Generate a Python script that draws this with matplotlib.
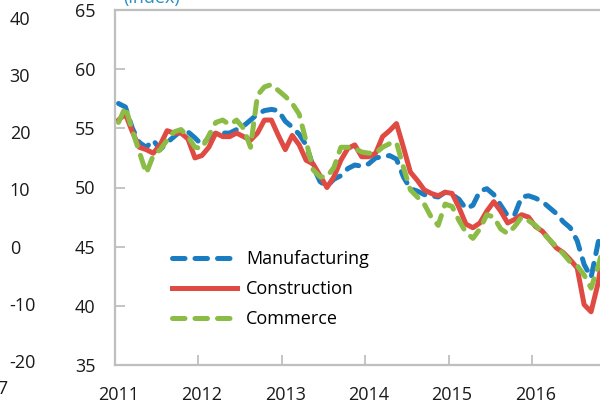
"""Business confidence indices by sector, 2011-2016 (monthly, index)
"""

import numpy as np
import pandas as pd
import matplotlib.pyplot as plt

plt.rcParams['font.family'] = ['Open Sans', 'DejaVu Sans']
plt.rcParams['font.size'] = 13
plt.rcParams['axes.unicode_minus'] = False

# monthly values, Jan 2011 onwards
manufacturing = [57.1, 56.8, 55.0, 53.8, 53.4, 54.0, 53.2, 53.8, 54.3, 54.8, 54.7, 54.2,
                 53.6, 54.2, 54.6, 54.6, 54.6, 54.9, 55.2, 55.7, 56.2, 56.5, 56.6, 56.5,
                 55.6, 55.1, 54.5, 53.6, 51.8, 50.5, 50.1, 50.7, 51.0, 51.6, 51.9, 51.8,
                 52.0, 52.5, 52.6, 52.7, 52.4, 50.9, 49.9, 49.7, 49.4, 49.3, 49.2, 49.6,
                 49.4, 49.0, 48.2, 48.5, 49.7, 49.9, 49.4, 48.5, 47.6, 47.7, 49.2, 49.3,
                 49.1, 48.8, 48.3, 47.8, 47.1, 46.6, 45.5, 43.5, 42.4, 45.3, 47.5, 48.5]
construction = [55.7, 56.2, 54.7, 53.4, 53.2, 52.9, 53.6, 54.8, 54.6, 54.6, 54.1, 52.5,
                52.7, 53.4, 54.6, 54.3, 54.3, 54.6, 54.3, 54.0, 54.6, 55.7, 55.7, 54.4,
                53.2, 54.4, 53.6, 52.3, 52.0, 51.0, 50.0, 50.9, 52.3, 53.3, 53.6, 52.6,
                52.6, 52.9, 54.3, 54.8, 55.4, 53.4, 51.3, 50.6, 49.8, 49.5, 49.3, 49.6,
                49.5, 48.3, 46.9, 46.6, 47.0, 48.0, 48.8, 48.0, 47.0, 47.3, 47.7, 47.5,
                46.7, 46.3, 45.6, 44.9, 44.5, 43.9, 43.2, 40.1, 39.5, 41.9, 45.5, 47.0]
commerce = [55.5, 56.8, 54.8, 53.0, 51.2, 52.7, 53.2, 54.0, 54.7, 54.9, 54.3, 53.4,
            53.3, 54.4, 55.5, 55.7, 55.3, 55.7, 55.0, 53.4, 57.8, 58.5, 58.7, 58.2,
            57.7, 57.1, 56.2, 53.9, 51.5, 50.9, 50.9, 51.7, 53.4, 53.4, 53.3, 53.0,
            52.9, 52.9, 53.4, 53.7, 53.8, 51.7, 49.8, 49.2, 48.6, 47.5, 46.8, 48.6,
            48.4, 47.2, 46.2, 45.7, 46.5, 47.7, 47.5, 46.5, 46.1, 46.7, 47.5, 47.2,
            46.8, 46.2, 45.6, 45.0, 44.4, 43.7, 43.4, 42.6, 41.5, 43.3, 45.5, 47.0]

years = ['2011', '2012', '2013', '2014', '2015', '2016']
yticks = [35, 40, 45, 50, 55, 60, 65]
# neighbouring (cropped) panel on the left
left_yticks = [40, 30, 20, 10, 0, -10, -20]
left_xlabel = '2017'

W, H = 600, 401
fig = plt.figure(figsize=(6, 4.01), dpi=100)

# cropped neighbour panel: only its right-hand tick labels show
axl = fig.add_axes([-0.5, (H - 361) / H, 0.5, (361 - 18) / H])
axl.set_ylim(-20, 40)
axl.set_yticks(left_yticks)
axl.yaxis.tick_right()
axl.tick_params(axis='y', length=0, pad=7, labelcolor='#1a1a1a')
axl.set_xticks([])
for s in axl.spines.values():
    s.set_visible(False)
axl.patch.set_visible(False)
fig.text(8 / W, 1 - 389 / H, left_xlabel, ha='right', va='center', color='#1a1a1a')

# main panel, runs past the right edge of the picture
n = len(manufacturing)
ax = fig.add_axes([115 / W, (H - 365) / H, n * 6.95 / W, 355 / H])
x = np.arange(n) + 0.5

ax.plot(x, manufacturing, color='#1b7dc1', lw=3.6, dashes=(2.5, 2.0),
        dash_capstyle='round', label='Manufacturing')
ax.plot(x, construction, color='#df4a43', lw=3.6, solid_joinstyle='round',
        label='Construction')
ax.plot(x, commerce, color='#8bbd46', lw=3.6, dashes=(2.5, 2.0),
        dash_capstyle='round', label='Commerce')

ax.set_xlim(0, n)
ax.set_ylim(35, 65)
ax.set_yticks(yticks)
ax.set_xticks(np.arange(0, n + 1, 12))
ax.set_xticklabels([])
ax.set_xticks(np.arange(len(years)) * 12 + 0.5, minor=True)
ax.set_xticklabels(years, minor=True)
ax.tick_params(axis='x', which='major', direction='in', length=7, width=1.3,
               color='#bfbfbf')
ax.tick_params(axis='x', which='minor', length=0, pad=15, labelcolor='#1a1a1a')
ax.tick_params(axis='y', direction='in', length=7, width=1.3, color='#bfbfbf',
               pad=14, labelcolor='#1a1a1a')
for side in ['left', 'bottom', 'top']:
    ax.spines[side].set_color('#bfbfbf')
    ax.spines[side].set_linewidth(1.6)
ax.spines['right'].set_visible(False)

leg = ax.legend(loc='upper left', bbox_to_anchor=(172 / W, 1 - 250 / H),
                bbox_transform=fig.transFigure, frameon=False, borderpad=0,
                borderaxespad=0, handlelength=3.6, handletextpad=0.5,
                labelspacing=0.66)

fig.text(123 / W, 1 - 3 / H, '(index)', ha='left', va='baseline', color='#2a8fc4')

plt.savefig('out.png', dpi=100)
